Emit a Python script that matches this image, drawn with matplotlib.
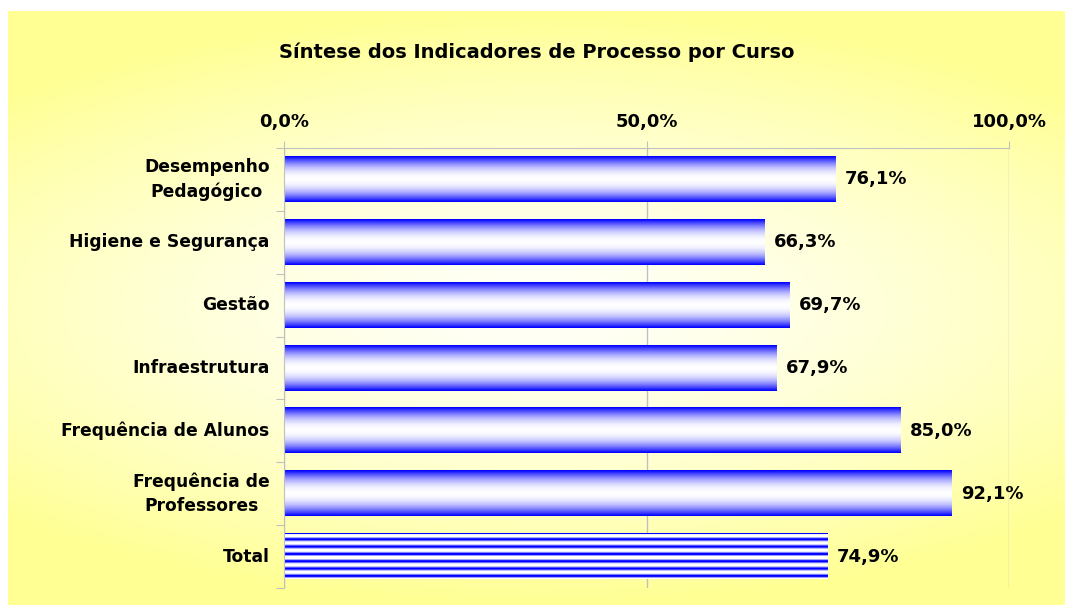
import matplotlib
matplotlib.use("Agg")
import matplotlib.pyplot as plt
import numpy as np

categories = ["Desempenho\nPedagógico", "Higiene e Segurança", "Gestão", "Infraestrutura",
              "Frequência de Alunos", "Frequência de\nProfessores", "Total"]
values = [76.1, 66.3, 69.7, 67.9, 85.0, 92.1, 74.9]
value_labels = ["76,1%", "66,3%", "69,7%", "67,9%", "85,0%", "92,1%", "74,9%"]
tick_vals = [0, 50, 100]
tick_labels = ["0,0%", "50,0%", "100,0%"]
title = "Síntese dos Indicadores de Processo por Curso"

plt.rcParams['font.family'] = ['DejaVu Sans']
fig = plt.figure(figsize=(10.73, 6.12), dpi=100)

# background box with yellow gradient (white-ish centre, yellow edges)
bg = fig.add_axes([8 / 1073, 1 - 605 / 612, 1057 / 1073, 594 / 612])
yy, xx = np.mgrid[-1:1:300j, -1:1:500j]
t = np.clip(np.sqrt((xx * 0.7) ** 2 + yy ** 2) / 1.0, 0, 1) ** 1.5
yellow = np.array([1.0, 1.0, 0.58])
white = np.array([1.0, 1.0, 0.97])
img = white * (1 - t[..., None]) + yellow * t[..., None]
bg.imshow(img, extent=(0, 1, 0, 1), aspect='auto')
bg.axis('off')

ax = fig.add_axes([284 / 1073, 1 - 588 / 612, 725 / 1073, 440 / 612])
ax.patch.set_alpha(0)
y = np.arange(len(categories))
h = 0.72
bars = ax.barh(y, values, height=h, color='none', zorder=2)

# gradient fill for bars
v = np.linspace(0, 1, 64)
tt = np.abs(2 * v - 1) ** 2.0
blue = np.array([0.0, 0.0, 1.0])
wh = np.array([1.0, 1.0, 1.0])
grad = (wh * (1 - tt[:, None]) + blue * tt[:, None])[:, None, :]

W = np.array([1.0, 1.0, 1.0])
L = np.array([0.6, 0.6, 1.0])
B = np.array([0.0, 0.0, 1.0])
pattern = [B, W]
for _ in range(6):
    pattern += [W, W, L, B, B, L, W]
stripes = np.array(pattern)[:, None, :]

for i, b in enumerate(bars):
    x0, y0, w, hh = b.get_x(), b.get_y(), b.get_width(), b.get_height()
    im = grad if i < len(bars) - 1 else stripes
    ax.imshow(im, extent=(x0, x0 + w, y0 + hh, y0), aspect='auto', zorder=2,
              interpolation='bilinear')
    ax.text(w + 1.3, y[i], value_labels[i], va='center', ha='left',
            fontsize=13, fontweight='bold', zorder=3)

ax.set_xlim(0, 100)
ax.set_ylim(len(categories) - 0.5, -0.5)
ax.xaxis.tick_top()
ax.set_xticks(tick_vals)
ax.set_xticklabels(tick_labels, fontsize=13, fontweight='bold')
ax.tick_params(axis='x', length=5, color='#c0c0c0', pad=7)
ax.grid(axis='x', color='#c0c0c0', linewidth=1, zorder=0)

ax.set_yticks(np.arange(len(categories) + 1) - 0.5, minor=False)
ax.set_yticklabels([])
ax.tick_params(axis='y', length=6, color='#c0c0c0')
for i, c in enumerate(categories):
    ax.text(-2.0, y[i], c, ha='right', va='center', multialignment='center',
            fontsize=12.3, fontweight='bold', linespacing=1.4)

for s in ['right', 'bottom']:
    ax.spines[s].set_visible(False)
for s in ['top', 'left']:
    ax.spines[s].set_color('#c0c0c0')

fig.text(0.5, 1 - 52 / 612, title, ha='center', va='center',
         fontsize=14, fontweight='bold')

fig.savefig("out.png", dpi=100)
